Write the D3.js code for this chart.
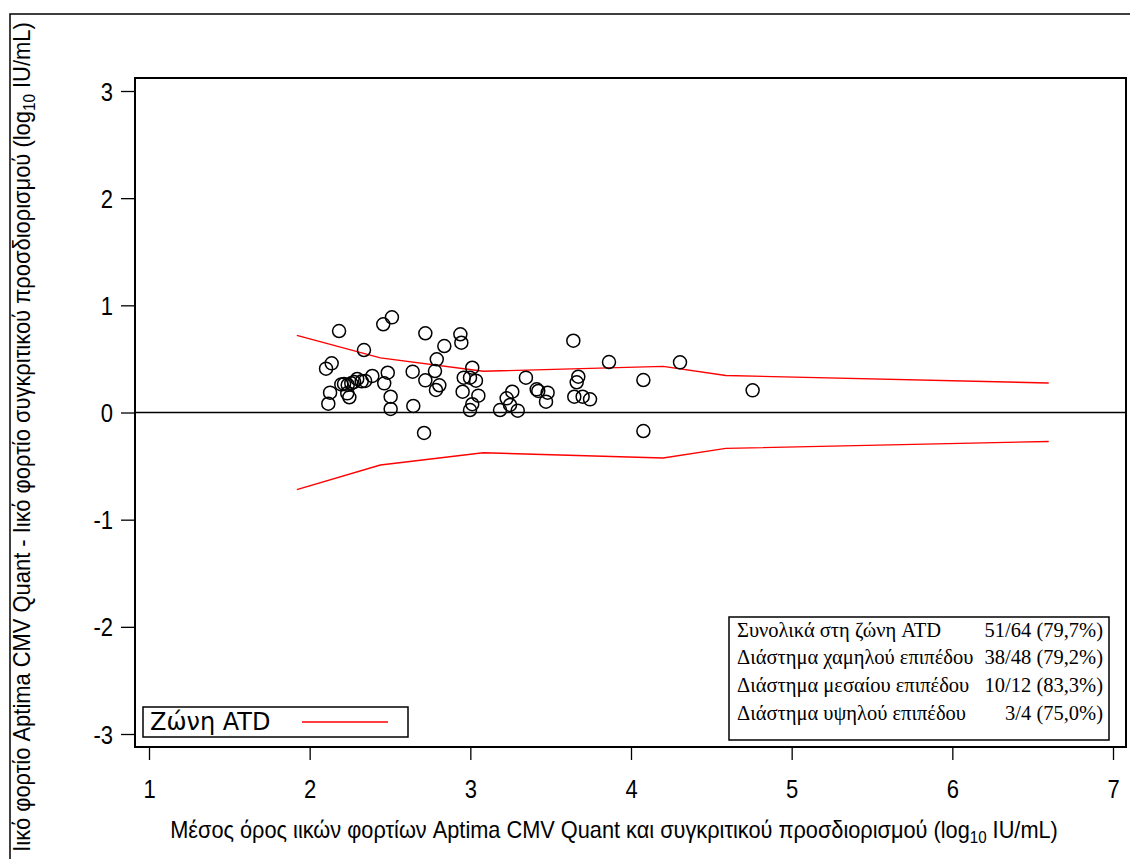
<!DOCTYPE html>
<html><head><meta charset="utf-8">
<script src="https://cdn.jsdelivr.net/npm/d3@7/dist/d3.min.js"></script>
<style>body{margin:0;background:#fff}svg{display:block}</style>
</head><body>
<script>
// ---- data ----
const meanX = [2.102,2.137,2.183,2.127,2.116,2.214,2.237,2.259,2.296,2.324,2.234,2.247,2.338,2.390,2.458,2.512,2.464,2.486,2.504,2.504,2.641,2.645,2.720,2.720,2.712,2.791,2.838,2.780,2.786,2.807,2.938,2.944,2.952,2.959,3.012,2.998,3.035,3.050,3.012,2.998,3.185,3.226,3.261,3.247,3.295,3.346,3.413,3.423,3.481,3.471,3.641,3.672,3.662,3.647,3.699,3.745,3.863,4.077,4.077,4.305,4.757,2.197,2.277,2.345];
const diffY = [0.409,0.459,0.760,0.185,0.082,0.266,0.257,0.272,0.313,0.291,0.179,0.142,0.583,0.341,0.823,0.888,0.272,0.371,0.147,0.033,0.381,0.061,0.739,0.300,-0.191,0.496,0.620,0.387,0.210,0.254,0.730,0.651,0.194,0.325,0.418,0.325,0.297,0.157,0.077,0.023,0.023,0.132,0.194,0.070,0.017,0.325,0.216,0.201,0.185,0.101,0.670,0.334,0.282,0.147,0.147,0.123,0.471,0.303,-0.173,0.468,0.207,0.262,0.285,0.295];
const bandX = [1.92,2.44,3.08,4.20,4.59,6.60];
const bandUpper = [0.72,0.51,0.385,0.43,0.345,0.275];
const bandLower = [-0.72,-0.49,-0.375,-0.425,-0.335,-0.27];
const xTicks = [1,2,3,4,5,6,7];
const yTicks = [-3,-2,-1,0,1,2,3];
const tableLabels = ["Συνολικά στη ζώνη ATD","Διάστημα χαμηλού επιπέδου","Διάστημα μεσαίου επιπέδου","Διάστημα υψηλού επιπέδου"];
const tableValues = ["51/64 (79,7%)","38/48 (79,2%)","10/12 (83,3%)","3/4 (75,0%)"];
const legendLabel = "Ζώνη ATD";

const W=1130,H=859;
const svg=d3.select("body").append("svg").attr("width",W).attr("height",H);
const fL=135,fT=78,fR=1126,fB=747;
const x=d3.scaleLinear().domain([1,7]).range([149,1113]);
const y=d3.scaleLinear().domain([-3,3]).range([734,91]);
const sx=0.88;

// outer frame
svg.append("rect").attr("x",10).attr("y",14).attr("width",1130).attr("height",860)
  .attr("fill","none").attr("stroke","#000").attr("stroke-width",1.5);

// axes
const xAxis=svg.append("g").attr("transform",`translate(0,${fB})`)
  .call(d3.axisBottom(x).tickValues(xTicks).tickSize(13).tickPadding(20).tickFormat(d3.format("d")));
const yAxis=svg.append("g").attr("transform",`translate(${fL},0)`)
  .call(d3.axisLeft(y).tickValues(yTicks).tickSize(14).tickPadding(8).tickFormat(d=>d));
[xAxis,yAxis].forEach(g=>{
  g.select(".domain").remove();
  g.selectAll("line").attr("stroke","#000").attr("stroke-width",1.3);
  g.selectAll("text").attr("font-family","Liberation Sans, Arial, sans-serif").attr("font-size",25).attr("fill","#000")
    .attr("transform",`scale(${sx},1)`);
});
yAxis.selectAll("text").attr("dy","0.36em").attr("x",-22/sx);

// plot frame
svg.append("rect").attr("x",fL).attr("y",fT).attr("width",fR-fL).attr("height",fB-fT)
  .attr("fill","none").attr("stroke","#000").attr("stroke-width",2);

// zero line
svg.append("line").attr("x1",fL).attr("x2",fR).attr("y1",y(0)).attr("y2",y(0))
  .attr("stroke","#000").attr("stroke-width",1.5);

// bands
const line=d3.line().x(d=>x(d[0])).y(d=>y(d[1]));
[bandUpper,bandLower].forEach(b=>{
  svg.append("path").attr("d",line(bandX.map((v,i)=>[v,b[i]])))
    .attr("fill","none").attr("stroke","#ff0000").attr("stroke-width",1.4);
});

// points
svg.append("g").selectAll("circle").data(meanX.map((v,i)=>[v,diffY[i]])).join("circle")
  .attr("cx",d=>x(d[0])).attr("cy",d=>y(d[1])).attr("r",6.5)
  .attr("fill","none").attr("stroke","#000").attr("stroke-width",1.5);

// legend
svg.append("rect").attr("x",143).attr("y",707).attr("width",265).attr("height",30)
  .attr("fill","#fff").attr("stroke","#000").attr("stroke-width",1.5);
svg.append("text").attr("x",150).attr("y",730).text(legendLabel)
  .attr("font-family","DejaVu Sans, sans-serif").attr("font-size",24).attr("fill","#000");
svg.append("line").attr("x1",302).attr("x2",388).attr("y1",722).attr("y2",722)
  .attr("stroke","#ff0000").attr("stroke-width",1.4);

// table
svg.append("rect").attr("x",729).attr("y",617).attr("width",380).attr("height",123)
  .attr("fill","#fff").attr("stroke","#000").attr("stroke-width",1.5);
const rowY=[637,664,692,720];
tableLabels.forEach((t,i)=>{
  svg.append("text").attr("x",737).attr("y",rowY[i]).text(t)
    .attr("font-family","Liberation Serif, Times New Roman, serif").attr("font-size",20.5).attr("fill","#000");
  svg.append("text").attr("x",1103).attr("y",rowY[i]).attr("text-anchor","end").text(tableValues[i])
    .attr("font-family","Liberation Serif, Times New Roman, serif").attr("font-size",20.5).attr("fill","#000");
});

// axis titles (fitted to the reference width)
const tf="Liberation Sans, Arial, sans-serif";
function title(g, main, target){
  const t=g.append("text").attr("text-anchor","middle")
    .attr("font-family",tf).attr("font-size",23).attr("fill","#000");
  t.append("tspan").text(main);
  t.append("tspan").attr("font-size",16).attr("dy",5).text("10");
  t.append("tspan").attr("dy",-5).text(" IU/mL)");
  const w=t.node().getComputedTextLength();
  t.attr("transform",`scale(${target/w},1)`);
}
const gx=svg.append("g").attr("transform","translate(614,838)");
title(gx,"Μέσος όρος ιικών φορτίων Aptima CMV Quant και συγκριτικού προσδιορισμού (log",888);
const gy=svg.append("g").attr("transform","translate(30,437) rotate(-90)");
title(gy,"Ιικό φορτίο Aptima CMV Quant - Ιικό φορτίο συγκριτικού προσδιορισμού (log",830);
</script>
</body></html>
